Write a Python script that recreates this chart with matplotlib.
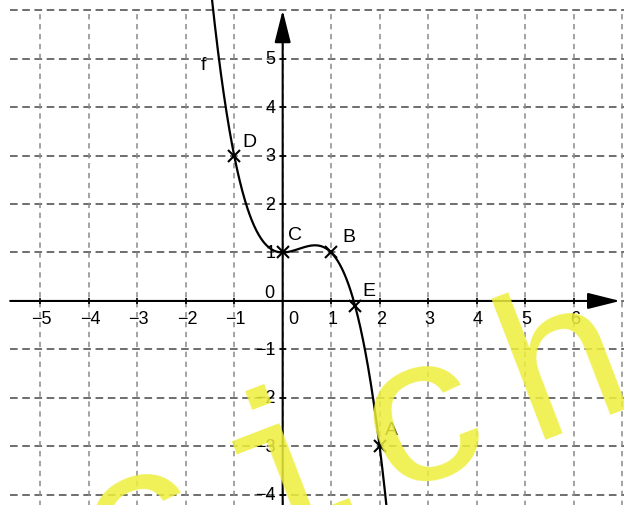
import numpy as np
import matplotlib.pyplot as plt

plt.rcParams['font.family'] = ['Liberation Sans', 'DejaVu Sans']

# f(x) = -x^3 + x^2 + 1
f_coeffs = [-1, 1, 0, 1]

point_names = ['D', 'C', 'B', 'E', 'A']
point_x = [-1, 0, 1, 1.5, 2]
point_y = [3, 1, 1, -0.1, -3]

x_ticks = [-5, -4, -3, -2, -1, 1, 2, 3, 4, 5, 6]
y_ticks = [-4, -3, -2, -1, 1, 2, 3, 4, 5]
grid_x = np.arange(-5, 8)
grid_y = np.arange(-4, 7)

watermark = 'cichr'

# label offsets (data units) for the named points
label_off = {'D': (0.32, 0.29), 'C': (0.26, 0.37), 'B': (0.36, 0.33),
             'E': (0.27, 0.32), 'A': (0.25, 0.35)}

fig = plt.figure(figsize=(6.24, 5.06), dpi=100)
ax = fig.add_axes([0, 0, 1, 1])
ax.set_xlim(-5.83, 7.04)
ax.set_ylim(-4.21, 6.23)
ax.axis('off')

# dashed grid
ax.hlines(grid_y, -5.62, 7.2, colors='#474747', lw=1.1,
          linestyles=(0, (5, 3)), zorder=1)
ax.vlines(grid_x, -4.4, 6.0, colors='#8a8a8a', lw=1.1,
          linestyles=(0, (3.5, 3)), zorder=1)

# axes with arrows
arrow = dict(arrowstyle='-|>,head_length=2.0,head_width=0.5', lw=1.5,
             color='k', shrinkA=0, shrinkB=0, mutation_scale=10)
ax.annotate('', xy=(6.96, 0), xytext=(-5.62, 0), arrowprops=arrow, zorder=3)
ax.annotate('', xy=(0, 6.0), xytext=(0, -4.4), arrowprops=arrow, zorder=3)
ax.plot(x_ticks, np.zeros(len(x_ticks)), '|', color='k', ms=5, mew=1.2, zorder=3)
ax.plot(np.zeros(len(y_ticks)), y_ticks, '_', color='k', ms=5, mew=1.2, zorder=3)

for t in x_ticks:
    ax.text(t + 0.03, -0.37, f'{t}'.replace('-', '\u2212'), fontsize=13,
            ha='center', va='center', zorder=4)
for t in y_ticks:
    ax.text(-0.15, t, f'{t}'.replace('-', '\u2212'), fontsize=13,
            ha='right', va='center', zorder=4)
ax.text(0.21, -0.37, '0', fontsize=13, ha='center', va='center', zorder=4)
ax.text(-0.28, 0.18, '0', fontsize=13, ha='center', va='center', zorder=4)

# curve
xs = np.linspace(-1.6, 2.3, 600)
ax.plot(xs, np.polyval(f_coeffs, xs), color='k', lw=1.6, zorder=5)
ax.text(-1.64, 4.87, 'f', fontsize=14, ha='center', va='center', zorder=6)

# named points
ax.plot(point_x, point_y, 'x', color='k', ms=8.5, mew=1.5, zorder=6)
for name, px, py in zip(point_names, point_x, point_y):
    dx, dy = label_off[name]
    ax.text(px + dx, py + dy, name, fontsize=14, ha='center', va='center',
            zorder=6)

# watermark, one glyph at a time along a tilted baseline
ang = 21.0
step = 3.09  # advance per glyph, data units
ux, uy = np.cos(np.radians(ang)), np.sin(np.radians(ang))
x0, y0 = 3.34 - 2 * step * ux, -3.49 - 2 * step * uy
for k, ch in enumerate(watermark):
    ax.text(x0 + k * step * ux, y0 + k * step * uy, ch, fontsize=150,
            family='Liberation Mono', color='#eeee3c', alpha=0.86,
            rotation=ang, rotation_mode='anchor', ha='center',
            va='baseline', zorder=10)

fig.savefig('out.png', dpi=100)
